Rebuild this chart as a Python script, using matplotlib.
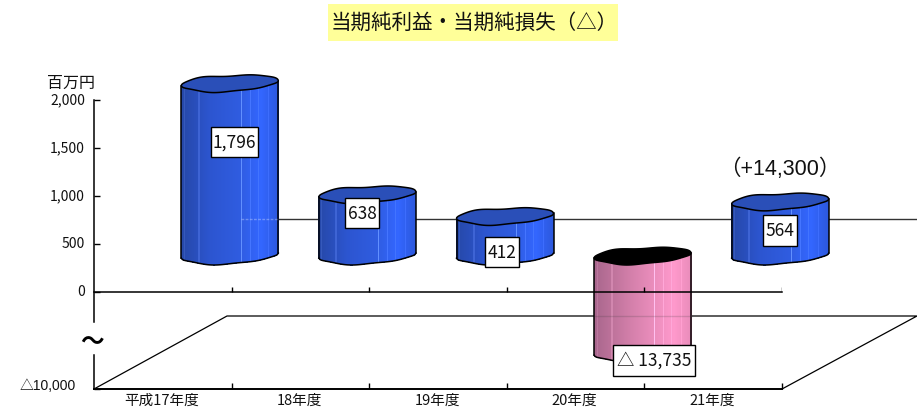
import numpy as np
import matplotlib
matplotlib.use("Agg")
import matplotlib.pyplot as plt
from matplotlib.collections import PolyCollection
from matplotlib.colors import to_rgb
from matplotlib.patches import Polygon, Rectangle
from matplotlib.transforms import IdentityTransform

categories = ["平成17年度", "18年度", "19年度", "20年度", "21年度"]
values = [1796, 638, 412, -13735, 564]
value_labels = ["1,796", "638", "412", "△ 13,735", "564"]
y_ticks = [2000, 1500, 1000, 500, 0, -10000]
y_tick_labels = ["2,000", "1,500", "1,000", "500", "0", "△10,000"]
title = "当期純利益・当期純損失（△）"
unit = "百万円"
note = "（+14,300）"

W, H = 917, 411
JP = ["Noto Sans CJK JP", "DejaVu Sans"]
ARIAL = ["Liberation Sans", "Noto Sans CJK JP"]
px = IdentityTransform()
DEPTH_X, DEPTH_Y = 67, 36.5
HALF_W, HALF_H, TILT = 48.5, 8.0, np.radians(3.0)

fig = plt.figure(figsize=(W / 100, H / 100), dpi=100, facecolor="white")
ax = fig.add_axes([94 / W, (H - 389) / H, (782 - 94) / W, (389 - 100) / H])


# Broken value axis: the positive range is stretched, the negative one compressed.
def forward(v):
    v = np.asarray(v, dtype=float)
    return np.where(v >= 0, v * 0.096, v * 0.0097)


def inverse(p):
    p = np.asarray(p, dtype=float)
    return np.where(p >= 0, p / 0.096, p / 0.0097)


ax.set_yscale("function", functions=(forward, inverse))
ax.set_ylim(-10000, 2000)
ax.set_xlim(0, 5)
ax.patch.set_visible(False)
for side in ("top", "right", "left"):
    ax.spines[side].set_visible(False)
ax.spines["bottom"].set_linewidth(1.4)

ax.set_yticks(y_ticks)
ax.set_yticklabels([])
ax.yaxis.set_minor_locator(plt.NullLocator())
ax.tick_params(axis="y", direction="in", length=4, width=1, pad=0)
ax.set_xticks(range(1, 6))
ax.set_xticklabels([])
ax.tick_params(axis="x", direction="in", length=4, width=1)


def to_px(x, v):
    return ax.transData.transform((x, v))


# Value axis with its break, zero line and the raised ticks on it.
ax.plot([0, 0], [2000, -3090], color="black", lw=1.1, clip_on=False, zorder=6)
ax.plot([0, 0], [-6500, -10000], color="black", lw=1.1, clip_on=False, zorder=6)
ax.plot([0, 5], [0, 0], color="black", lw=1.1, clip_on=False, zorder=6)
ax.vlines(range(1, 6), 0, 50, color="black", lw=1, zorder=6)

# Floor outline and back wall line, measured from the front axis by the depth offset.
x0, y0 = to_px(0, -10000)
x5, _ = to_px(5, -10000)
_, y_zero = to_px(0, 0)
floor_y = y0 + 2 * DEPTH_Y
ax.plot([x0, x0 + 133, W, x5], [y0, floor_y, floor_y, y0],
        color="black", lw=0.9, transform=px, clip_on=False, zorder=1)
wall_y = y_zero + 2 * DEPTH_Y
ax.plot([x0 + 133, W], [wall_y, wall_y], color="#333333", lw=1.0,
        transform=px, clip_on=False, zorder=1)


def ellipse(cx, cy, n=160):
    # Slightly uneven rim, as the cylinders are hand-shaped rather than true ellipses.
    t = np.linspace(0, 2 * np.pi, n, endpoint=False)
    r = 1 + 0.1 * np.sin(3 * t + 0.6) + 0.07 * np.sin(6 * t + 1.0)
    ex = HALF_W * np.cos(t)
    ey = HALF_H * np.sin(t) * r
    return (cx + ex * np.cos(TILT) - ey * np.sin(TILT),
            cy + ex * np.sin(TILT) + ey * np.cos(TILT))


def lower_arc(cx, cy, xs):
    ex, ey = ellipse(cx, cy, 400)
    low = ey < cy + (ex - cx) * np.tan(TILT)
    order = np.argsort(ex[low])
    return np.interp(xs, ex[low][order], ey[low][order])


def shade(stops, frac):
    pos = [s[0] for s in stops]
    rgb = np.array([to_rgb(s[1]) for s in stops])
    return [np.interp(frac, pos, rgb[:, k]) for k in range(3)]


BLUE = [(0, "#2648a8"), (0.3, "#2c55d0"), (0.6, "#2f5ce0"), (0.82, "#3366ff"), (1, "#2c58dc")]
PINK = [(0, "#a8668c"), (0.4, "#d681ac"), (0.82, "#ff99cc"), (1, "#e88cba")]
STREAKS = {0.03: 0.06, 0.18: 0.08, 0.62: 0.2, 0.71: 0.08, 0.79: 0.06, 0.9: 0.05}


def cylinder(i, value):
    # Values below the axis minimum stop at the floor of the chart.
    bx, by = to_px(i + 0.5, 0)
    tx, ty = to_px(i + 0.5, max(value, -10000))
    cx = bx + DEPTH_X
    if value >= 0:
        top_y, bot_y, stops, cap = ty + DEPTH_Y, by + DEPTH_Y, BLUE, "#2a4fb8"
    else:
        top_y, bot_y, stops, cap = by + DEPTH_Y, ty + DEPTH_Y, PINK, "black"
    xs = np.arange(cx - HALF_W, cx + HALF_W + 1)
    low = lower_arc(cx, bot_y, xs)
    mid = top_y + (xs - cx) * np.tan(TILT)
    strips, colors = [], []
    for k in range(len(xs) - 1):
        f = (xs[k] - xs[0]) / (xs[-1] - xs[0])
        col = shade(stops, f)
        for s, lift in STREAKS.items():
            if abs(f - s) < 0.006:
                col = [min(1, c + lift) for c in col]
        strips.append([(xs[k], low[k]), (xs[k + 1], low[k + 1]), (xs[k + 1], mid[k + 1]), (xs[k], mid[k])])
        colors.append(col)
    ax.add_collection(PolyCollection(strips, facecolors=colors, edgecolors="none",
                                     antialiaseds=False, transform=px, clip_on=False, zorder=3), autolim=False)
    ax.plot(xs, low, color="black", lw=1.1, transform=px, clip_on=False, zorder=4)
    for e in (0, -1):
        ax.plot([xs[e], xs[e]], [low[e], mid[e]], color="black", lw=1.1,
                transform=px, clip_on=False, zorder=4)
    ex, ey = ellipse(cx, top_y)
    ax.add_patch(Polygon(np.column_stack([ex, ey]), facecolor=cap, edgecolor="black", lw=1.1,
                         transform=px, clip_on=False, zorder=4))


for i, v in enumerate(values):
    cylinder(i, v)

# The wall and floor lines show faintly through the tall bars.
ax.plot([241, 278], [wall_y, wall_y], color="white", alpha=0.3, lw=1, ls=(0, (2, 1)),
        transform=px, clip_on=False, zorder=5)
ax.plot([595, 692], [floor_y, floor_y], color="#333333", alpha=0.18, lw=1,
        transform=px, clip_on=False, zorder=5)


def screen_text(x, y, s, **kw):
    return ax.text(x, H - y, s, transform=px, clip_on=False, **kw)


# Boxed value labels (left, top, right, bottom of each box on the canvas).
boxes = [(211, 127, 258, 157), (345, 198, 379, 228), (485, 237, 519, 267), (613, 345, 695, 376), (763, 215, 797, 246)]
for (l, t, r, b), lab in zip(boxes, value_labels):
    ax.add_patch(Rectangle((l, H - b), r - l, b - t, facecolor="white", edgecolor="black", lw=1,
                           transform=px, clip_on=False, zorder=7))
    screen_text((l + r) / 2, (t + b) / 2 + 0.5, lab, ha="center", va="center", fontsize=12.5,
                family=JP, color="#111111", zorder=8)

# Title on its yellow band.
band = Rectangle((328 / W, (H - 41) / H), 290 / W, 37 / H, facecolor="#ffff99",
                 edgecolor="none", transform=fig.transFigure, zorder=-1)
fig.add_artist(band)
screen_text(474, 22.5, title, ha="center", va="center", fontsize=14.8, family=JP, color="#111111", zorder=8)

screen_text(780, 169, note, ha="center", va="center", fontsize=15.5, family=ARIAL, color="#111111", zorder=8)
screen_text(95, 83, unit, ha="right", va="center", fontsize=11.5, family=JP, color="#111111", zorder=8)

for v, lab in zip(y_ticks, y_tick_labels):
    _, yp = to_px(0, v)
    right = 76 if v < 0 else 85
    ax.text(right, yp + (3 if v < 0 else 0), lab, transform=px, ha="right", va="center", fontsize=10,
            family=JP if v >= 0 else ARIAL, color="#111111", clip_on=False)

for i, c in enumerate(categories):
    xp, _ = to_px(i + 0.5, 0)
    screen_text(xp - 1, 401, c, ha="center", va="center", fontsize=10.5, family=JP, color="#111111")

screen_text(92, 342, "～", ha="center", va="center", fontsize=17, fontweight="bold", family=JP, color="black", zorder=8)

fig.savefig("out.png", dpi=100, facecolor="white")
